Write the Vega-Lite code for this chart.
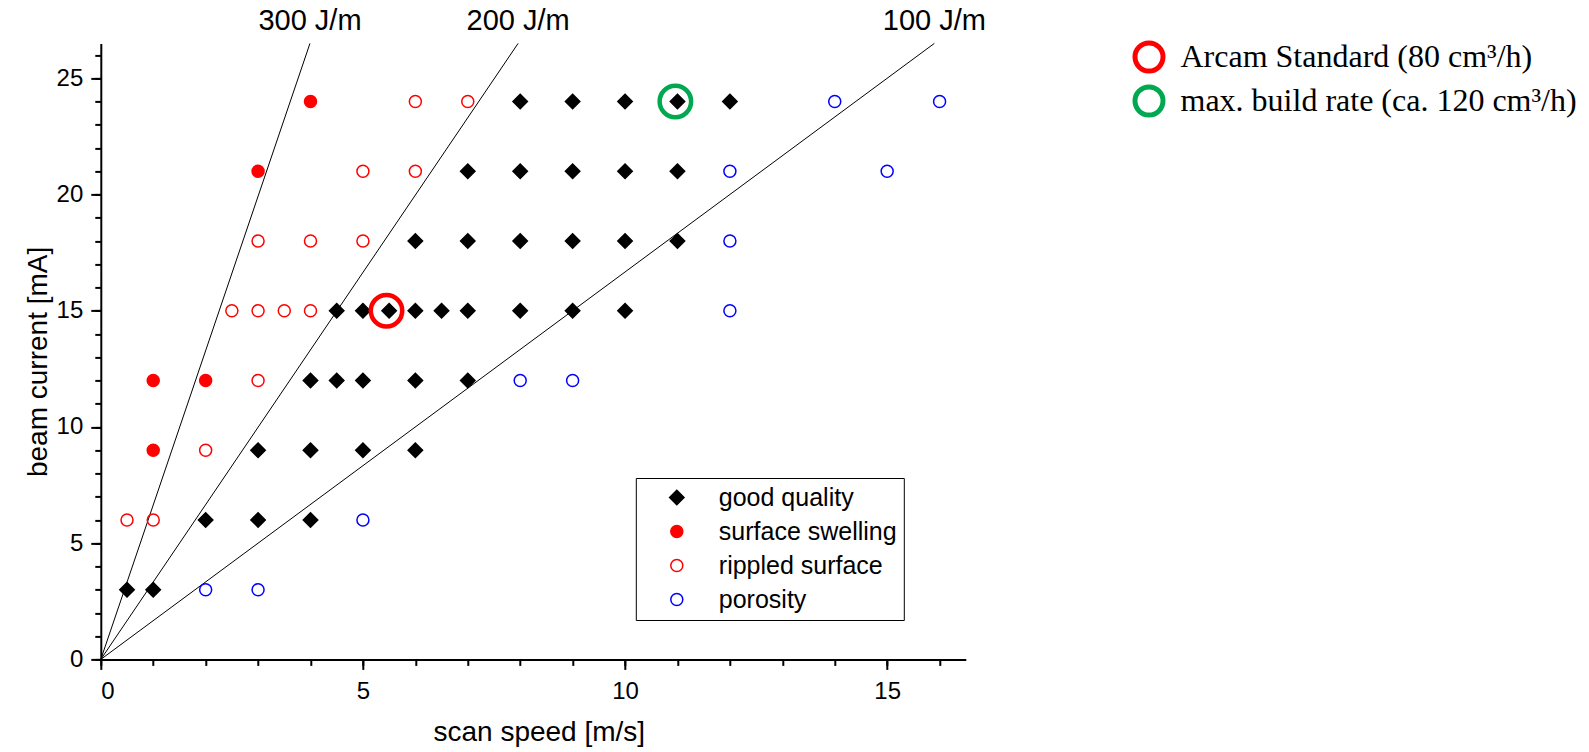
{
  "$schema": "https://vega.github.io/schema/vega-lite/v6.json",
  "width": 865,
  "height": 616,
  "autosize": {"type": "none"},
  "padding": {"left": 100.8, "top": 43.4, "right": 623.2, "bottom": 92.6},
  "background": "white",
  "config": {"view": {"stroke": null}, "font": "Liberation Sans"},
  "datasets": {
    "lines": [
      {"E": "300 J/m", "v": 0, "I": 0}, {"E": "300 J/m", "v": 3.99, "I": 26.5},
      {"E": "200 J/m", "v": 0, "I": 0}, {"E": "200 J/m", "v": 7.96, "I": 26.5},
      {"E": "100 J/m", "v": 0, "I": 0}, {"E": "100 J/m", "v": 15.9, "I": 26.5}
    ],
    "tops": [
      {"E": "300 J/m", "v": 3.99, "I": 26.5},
      {"E": "200 J/m", "v": 7.96, "I": 26.5},
      {"E": "100 J/m", "v": 15.9, "I": 26.5}
    ],
    "points": [
      {"class": "good quality", "v": 0.5, "I": 3}, {"class": "good quality", "v": 1, "I": 3},
      {"class": "good quality", "v": 2, "I": 6}, {"class": "good quality", "v": 3, "I": 6}, {"class": "good quality", "v": 4, "I": 6},
      {"class": "good quality", "v": 3, "I": 9}, {"class": "good quality", "v": 4, "I": 9}, {"class": "good quality", "v": 5, "I": 9}, {"class": "good quality", "v": 6, "I": 9},
      {"class": "good quality", "v": 4, "I": 12}, {"class": "good quality", "v": 4.5, "I": 12}, {"class": "good quality", "v": 5, "I": 12}, {"class": "good quality", "v": 6, "I": 12}, {"class": "good quality", "v": 7, "I": 12},
      {"class": "good quality", "v": 4.5, "I": 15}, {"class": "good quality", "v": 5, "I": 15}, {"class": "good quality", "v": 5.5, "I": 15}, {"class": "good quality", "v": 6, "I": 15}, {"class": "good quality", "v": 6.5, "I": 15}, {"class": "good quality", "v": 7, "I": 15}, {"class": "good quality", "v": 8, "I": 15}, {"class": "good quality", "v": 9, "I": 15}, {"class": "good quality", "v": 10, "I": 15},
      {"class": "good quality", "v": 6, "I": 18}, {"class": "good quality", "v": 7, "I": 18}, {"class": "good quality", "v": 8, "I": 18}, {"class": "good quality", "v": 9, "I": 18}, {"class": "good quality", "v": 10, "I": 18}, {"class": "good quality", "v": 11, "I": 18},
      {"class": "good quality", "v": 7, "I": 21}, {"class": "good quality", "v": 8, "I": 21}, {"class": "good quality", "v": 9, "I": 21}, {"class": "good quality", "v": 10, "I": 21}, {"class": "good quality", "v": 11, "I": 21},
      {"class": "good quality", "v": 8, "I": 24}, {"class": "good quality", "v": 9, "I": 24}, {"class": "good quality", "v": 10, "I": 24}, {"class": "good quality", "v": 11, "I": 24}, {"class": "good quality", "v": 12, "I": 24},
      {"class": "surface swelling", "v": 1, "I": 9},
      {"class": "surface swelling", "v": 1, "I": 12}, {"class": "surface swelling", "v": 2, "I": 12},
      {"class": "surface swelling", "v": 3, "I": 21},
      {"class": "surface swelling", "v": 4, "I": 24},
      {"class": "rippled surface", "v": 0.5, "I": 6}, {"class": "rippled surface", "v": 1, "I": 6},
      {"class": "rippled surface", "v": 2, "I": 9},
      {"class": "rippled surface", "v": 3, "I": 12},
      {"class": "rippled surface", "v": 2.5, "I": 15}, {"class": "rippled surface", "v": 3, "I": 15}, {"class": "rippled surface", "v": 3.5, "I": 15}, {"class": "rippled surface", "v": 4, "I": 15},
      {"class": "rippled surface", "v": 3, "I": 18}, {"class": "rippled surface", "v": 4, "I": 18}, {"class": "rippled surface", "v": 5, "I": 18},
      {"class": "rippled surface", "v": 5, "I": 21}, {"class": "rippled surface", "v": 6, "I": 21},
      {"class": "rippled surface", "v": 6, "I": 24}, {"class": "rippled surface", "v": 7, "I": 24},
      {"class": "porosity", "v": 2, "I": 3}, {"class": "porosity", "v": 3, "I": 3},
      {"class": "porosity", "v": 5, "I": 6},
      {"class": "porosity", "v": 8, "I": 12}, {"class": "porosity", "v": 9, "I": 12},
      {"class": "porosity", "v": 12, "I": 15},
      {"class": "porosity", "v": 12, "I": 18},
      {"class": "porosity", "v": 12, "I": 21}, {"class": "porosity", "v": 15, "I": 21},
      {"class": "porosity", "v": 14, "I": 24}, {"class": "porosity", "v": 16, "I": 24}
    ],
    "highlights": [
      {"name": "Arcam Standard (80 cm³/h)", "v": 5.45, "I": 15},
      {"name": "max. build rate (ca. 120 cm³/h)", "v": 10.96, "I": 24}
    ]
  },
  "layer": [
    {
      "data": {"name": "lines"},
      "mark": {"type": "line", "color": "black", "strokeWidth": 1},
      "encoding": {
        "x": {"field": "v", "type": "quantitative", "scale": {"domain": [0, 16.5], "nice": false, "zero": false},
          "axis": {"orient": "bottom", "values": [0,1,2,3,4,5,6,7,8,9,10,11,12,13,14,15,16], "tickSize": 6, "tickWidth": 2, "tickColor": "black", "labels": false, "domain": false, "grid": false, "title": null}},
        "y": {"field": "I", "type": "quantitative", "scale": {"domain": [0, 26.5], "nice": false, "zero": false},
          "axis": {"orient": "left", "values": [0,1,2,3,4,5,6,7,8,9,10,11,12,13,14,15,16,17,18,19,20,21,22,23,24,25,26], "tickSize": 6, "tickWidth": 2, "tickColor": "black", "labels": false, "domain": false, "grid": false, "title": null}},
        "detail": {"field": "E"}
      }
    },
    {
      "data": {"name": "points"},
      "mark": {"type": "point", "filled": true, "size": 144, "strokeWidth": 1.5, "opacity": 1},
      "encoding": {
        "x": {"field": "v", "type": "quantitative", "scale": {"domain": [0, 16.5], "nice": false, "zero": false},
          "axis": {"orient": "bottom", "values": [0, 5, 10, 15], "tickSize": 10, "tickWidth": 2, "tickColor": "black", "domainColor": "black", "domainWidth": 2, "grid": false,
            "labelFont": "Liberation Sans", "labelFontSize": 24, "labelColor": "black", "labelPadding": 10,
            "title": "scan speed [m/s]", "titleFont": "Liberation Sans", "titleFontSize": 28, "titleFontWeight": "normal", "titleColor": "black",
            "titleX": 438, "titleY": 81, "titleBaseline": "alphabetic", "titleAlign": "center"}},
        "y": {"field": "I", "type": "quantitative", "scale": {"domain": [0, 26.5], "nice": false, "zero": false},
          "axis": {"orient": "left", "values": [0, 5, 10, 15, 20, 25], "tickSize": 10, "tickWidth": 2, "tickColor": "black", "domainColor": "black", "domainWidth": 2, "grid": false,
            "labelFont": "Liberation Sans", "labelFontSize": 24, "labelColor": "black", "labelPadding": 8,
            "title": "beam current [mA]", "titleFont": "Liberation Sans", "titleFontSize": 28, "titleFontWeight": "normal", "titleColor": "black",
            "titleAngle": 270, "titleX": -54, "titleY": 318, "titleBaseline": "alphabetic", "titleAlign": "center"}},
        "shape": {"field": "class", "type": "nominal",
          "scale": {"domain": ["good quality", "surface swelling", "rippled surface", "porosity"], "range": ["M0,-1.2L1.2,0L0,1.2L-1.2,0Z", "circle", "circle", "circle"]},
          "legend": {"orient": "none", "legendX": 535, "legendY": 434.6, "title": null, "strokeColor": "black", "fillColor": "white", "padding": 7, "symbolOffset": 21.5, "labelOffset": 29.5, "labelFont": "Liberation Sans", "labelFontSize": 25, "labelColor": "black", "rowPadding": 8, "labelLimit": 500, "symbolStrokeWidth": 1.5, "symbolSize": 144}},
        "fill": {"field": "class", "type": "nominal",
          "scale": {"domain": ["good quality", "surface swelling", "rippled surface", "porosity"], "range": ["#000000", "#ff0000", "transparent", "transparent"]},
          "legend": {"orient": "none", "legendX": 535, "legendY": 434.6, "title": null, "strokeColor": "black", "fillColor": "white", "padding": 7, "symbolOffset": 21.5, "labelOffset": 29.5, "labelFont": "Liberation Sans", "labelFontSize": 25, "labelColor": "black", "rowPadding": 8, "labelLimit": 500, "symbolStrokeWidth": 1.5, "symbolSize": 144}},
        "stroke": {"field": "class", "type": "nominal",
          "scale": {"domain": ["good quality", "surface swelling", "rippled surface", "porosity"], "range": ["#000000", "#ff0000", "#ff0000", "#0000ff"]},
          "legend": {"orient": "none", "legendX": 535, "legendY": 434.6, "title": null, "strokeColor": "black", "fillColor": "white", "padding": 7, "symbolOffset": 21.5, "labelOffset": 29.5, "labelFont": "Liberation Sans", "labelFontSize": 25, "labelColor": "black", "rowPadding": 8, "labelLimit": 500, "symbolStrokeWidth": 1.5, "symbolSize": 144}}
      }
    },
    {
      "data": {"name": "highlights"},
      "mark": {"type": "point", "filled": false, "size": 990, "strokeWidth": 4.5, "opacity": 1, "shape": "circle"},
      "encoding": {
        "x": {"field": "v", "type": "quantitative", "axis": null},
        "y": {"field": "I", "type": "quantitative", "axis": null},
        "color": {"field": "name", "type": "nominal",
          "scale": {"domain": ["Arcam Standard (80 cm³/h)", "max. build rate (ca. 120 cm³/h)"], "range": ["#ff0000", "#00a84f"]},
          "legend": {"orient": "none", "legendX": 1031.7, "legendY": -2.9, "title": null, "padding": 0, "labelFont": "Liberation Serif", "labelFontSize": 32, "labelColor": "black", "labelOffset": 15, "rowPadding": -5, "labelLimit": 800, "symbolSize": 784, "symbolStrokeWidth": 5, "symbolType": "circle"}}
      }
    },
    {
      "data": {"name": "tops"},
      "mark": {"type": "text", "font": "Liberation Sans", "fontSize": 29, "color": "black", "align": "center", "baseline": "alphabetic", "dy": -13},
      "encoding": {
        "x": {"field": "v", "type": "quantitative", "axis": null},
        "y": {"field": "I", "type": "quantitative", "axis": null},
        "text": {"field": "E"}
      }
    }
  ],
  "resolve": {"axis": {"x": "independent", "y": "independent"}}
}
